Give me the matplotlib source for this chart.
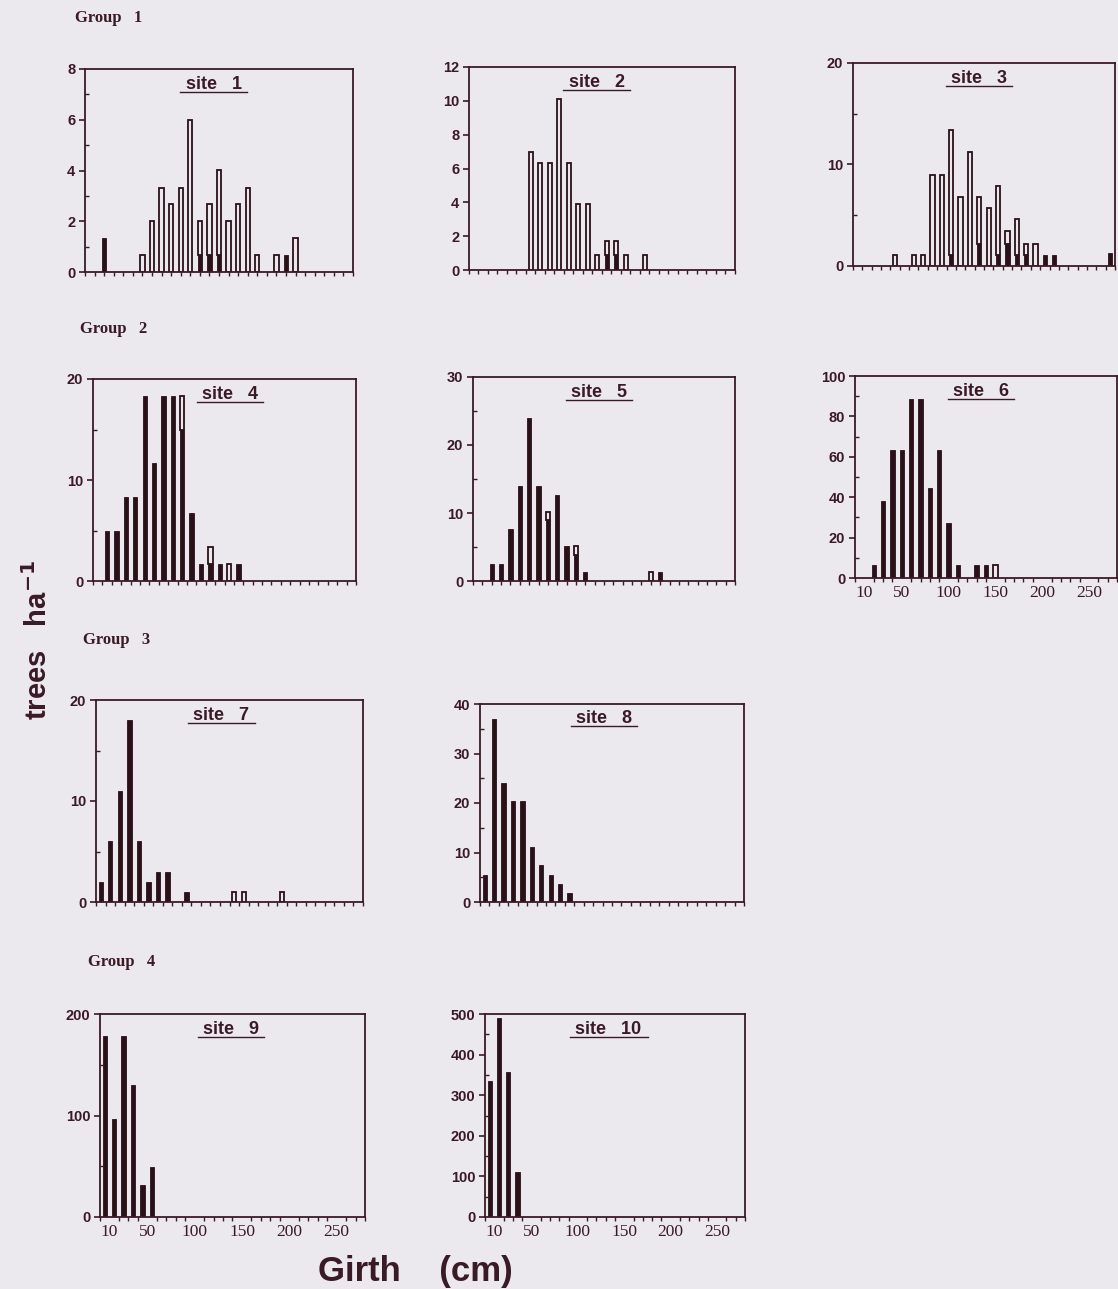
import matplotlib
matplotlib.use("Agg")
import matplotlib.pyplot as plt
import numpy as np

# girth class centres (cm), dark (filled) and open (white) stacked parts, trees/ha
site1_girth = [20, 60, 70, 80, 90, 100, 110, 120, 130, 140, 150, 160, 170, 180, 200, 210, 220]
site1_dark = [1.33, 0, 0, 0, 0, 0, 0, 0.67, 0.67, 0.67, 0, 0, 0, 0, 0, 0.67, 0]
site1_open = [0, 0.67, 2.0, 3.33, 2.67, 3.33, 6.0, 1.33, 2.0, 3.33, 2.0, 2.67, 3.33, 0.67, 0.67, 0, 1.33]

site2_girth = [65, 75, 85, 95, 105, 115, 125, 135, 145, 155, 165, 185]
site2_dark = [0, 0, 0, 0, 0, 0, 0, 0, 0.9, 0.9, 0, 0]
site2_open = [7.0, 6.3, 6.3, 10.1, 6.3, 3.9, 3.9, 0.9, 0.8, 0.8, 0.9, 0.9]

site3_girth = [45, 65, 75, 85, 95, 105, 115, 125, 135, 145, 155, 165, 175, 185, 195, 205, 215, 275]
site3_dark = [0, 0, 0, 0, 0, 1.1, 0, 0, 2.2, 0, 1.1, 2.2, 1.1, 1.1, 0, 1.1, 1.1, 1.3]
site3_open = [1.1, 1.1, 1.1, 9.0, 9.0, 12.3, 6.8, 11.2, 4.6, 5.7, 6.8, 1.2, 3.5, 1.1, 2.2, 0, 0, 0]

site4_girth = [15, 25, 35, 45, 55, 65, 75, 85, 95, 105, 115, 125, 135, 145, 155]
site4_dark = [5.0, 5.0, 8.3, 8.3, 18.3, 11.7, 18.3, 18.3, 15.0, 6.7, 1.7, 1.7, 1.7, 0, 1.7]
site4_open = [0, 0, 0, 0, 0, 0, 0, 0, 3.3, 0, 0, 1.7, 0, 1.7, 0]

site5_girth = [20, 30, 40, 50, 60, 70, 80, 90, 100, 110, 120, 190, 200]
site5_dark = [2.5, 2.5, 7.6, 13.9, 24.0, 13.9, 8.9, 12.6, 5.1, 3.8, 1.3, 0, 1.3]
site5_open = [0, 0, 0, 0, 0, 0, 1.3, 0, 0, 1.3, 0, 1.3, 0]

site6_girth = [20, 30, 40, 50, 60, 70, 80, 90, 100, 110, 130, 140, 150]
site6_dark = [6.5, 38, 63.5, 63.5, 88.5, 88.5, 44.5, 63.5, 27, 6.5, 6.5, 6.5, 0]
site6_open = [0, 0, 0, 0, 0, 0, 0, 0, 0, 0, 0, 0, 6.5]

site7_girth = [5, 15, 25, 35, 45, 55, 65, 75, 95, 145, 155, 195]
site7_dark = [2, 6, 11, 18, 6, 2, 3, 3, 1, 0, 0, 0]
site7_open = [0, 0, 0, 0, 0, 0, 0, 0, 0, 1, 1, 1]

site8_girth = [5, 15, 25, 35, 45, 55, 65, 75, 85, 95]
site8_dark = [5.5, 37, 24, 20.4, 20.4, 11.1, 7.4, 5.5, 3.7, 1.85]
site8_open = [0, 0, 0, 0, 0, 0, 0, 0, 0, 0]

site9_girth = [5, 15, 25, 35, 45, 55]
site9_dark = [178, 97, 178, 130, 32, 49]
site9_open = [0, 0, 0, 0, 0, 0]

site10_girth = [5, 15, 25, 35]
site10_dark = [335, 490, 358, 112]
site10_open = [0, 0, 0, 0]

site_names = ['site   1', 'site   2', 'site   3', 'site   4', 'site   5',
              'site   6', 'site   7', 'site   8', 'site   9', 'site   10']
group_names = ['Group   1', 'Group   2', 'Group   3', 'Group   4']
xtick_labels = [10, 50, 100, 150, 200, 250]

W, H = 1118, 1289
BG = '#ebe9ee'
INK = '#3a1a24'
BAR = '#2a1118'

fig = plt.figure(figsize=(W / 100, H / 100), dpi=100, facecolor=BG)


def px_axes(left, top, right, bottom):
    return fig.add_axes([left / W, 1 - bottom / H, (right - left) / W, (bottom - top) / H])


# axes boxes in pixels: left, top, right, bottom
boxes = [
    (85, 69, 353, 272), (469, 67, 735, 270), (853, 63, 1115, 266),
    (93, 379, 356, 581), (473, 377, 735, 581), (855, 376, 1117, 578),
    (96, 700, 363, 902), (480, 704, 744, 902),
    (100, 1014, 365, 1217), (485, 1014, 745, 1217),
]
title_x = [0.48, 0.48, 0.48, 0.52, 0.48, 0.48, 0.47, 0.47, 0.495, 0.475]
yticks = [
    (np.arange(0, 9, 2), np.arange(1, 8, 2), 8),
    (np.arange(0, 13, 2), [], 12),
    ([0, 10, 20], [5, 15], 20),
    ([0, 10, 20], [5, 15], 20),
    ([0, 10, 20, 30], [5, 15, 25], 30),
    (np.arange(0, 101, 20), np.arange(10, 100, 20), 100),
    ([0, 10, 20], [5, 15], 20),
    ([0, 10, 20, 30, 40], [5, 15, 25, 35], 40),
    ([0, 100, 200], [50, 150], 200),
    (np.arange(0, 501, 100), np.arange(50, 500, 100), 500),
]
girths = [site1_girth, site2_girth, site3_girth, site4_girth, site5_girth,
          site6_girth, site7_girth, site8_girth, site9_girth, site10_girth]
darks = [site1_dark, site2_dark, site3_dark, site4_dark, site5_dark,
         site6_dark, site7_dark, site8_dark, site9_dark, site10_dark]
opens = [site1_open, site2_open, site3_open, site4_open, site5_open,
         site6_open, site7_open, site8_open, site9_open, site10_open]
labelled = {5, 8, 9}

for i, box in enumerate(boxes):
    ax = px_axes(*box)
    ax.set_facecolor(BG)
    g = np.array(girths[i], dtype=float)
    d = np.array(darks[i], dtype=float)
    o = np.array(opens[i], dtype=float)

    ax.bar(g, d, width=4.6, color=BAR, edgecolor=BAR, linewidth=0.6)
    mask = o > 0
    ax.bar(g[mask], o[mask], bottom=d[mask], width=4.6, color=BG,
           edgecolor=BAR, linewidth=1.3)

    major, minor, top = yticks[i]
    ax.set_xlim(0, 280)
    ax.set_ylim(0, top)
    ax.set_yticks(major)
    ax.set_yticks(minor, minor=True)
    ax.set_xticks(np.arange(0, 281, 10), minor=True)
    if i in labelled:
        ax.set_xticks(xtick_labels)
        ax.set_xticklabels([str(v) for v in xtick_labels],
                           fontfamily='Liberation Serif', fontsize=12.5, color=INK)
        ax.tick_params(axis='x', which='major', length=0, pad=5)
    else:
        ax.set_xticks([])
    ax.tick_params(axis='x', which='minor', direction='out', length=3,
                   width=1, color=INK)
    ax.tick_params(axis='y', which='major', direction='out', length=4,
                   width=1.2, color=INK, pad=3)
    ax.tick_params(axis='y', which='minor', direction='in', length=3,
                   width=1, color=INK)
    for lab in ax.get_yticklabels():
        lab.set_fontfamily('Liberation Sans')
        lab.set_fontweight('bold')
        lab.set_fontsize(10.5)
        lab.set_color(INK)
    for sp in ax.spines.values():
        sp.set_color(INK)
        sp.set_linewidth(1.3)

    # underlined panel title
    tx = title_x[i]
    ax.text(tx, 0.925, site_names[i], transform=ax.transAxes,
            ha='center', va='center', fontsize=13, fontweight='bold',
            fontfamily='Liberation Sans', color=INK)
    w = 0.125 if i < 9 else 0.15
    ax.plot([tx - w, tx + w], [0.888, 0.888], transform=ax.transAxes,
            color=INK, linewidth=1.0, clip_on=False)

# group labels
for name, (gx, gy) in zip(group_names, [(75, 18), (80, 329), (83, 640), (88, 962)]):
    fig.text(gx / W, 1 - gy / H, name, ha='left', va='center',
             fontfamily='Liberation Serif', fontweight='bold', fontsize=12,
             color=INK)

fig.text(38 / W, 1 - 640 / H, r'trees   ha$^{\mathbf{-1}}$', rotation=90,
         ha='center', va='center', fontfamily='Liberation Sans',
         fontweight='bold', fontsize=21, color=INK)
fig.text(415 / W, 1 - 1271 / H, 'Girth    (cm)', ha='center', va='center',
         fontfamily='Liberation Sans', fontweight='bold', fontsize=25,
         color=INK)

fig.savefig('out.png', dpi=100, facecolor=BG)
